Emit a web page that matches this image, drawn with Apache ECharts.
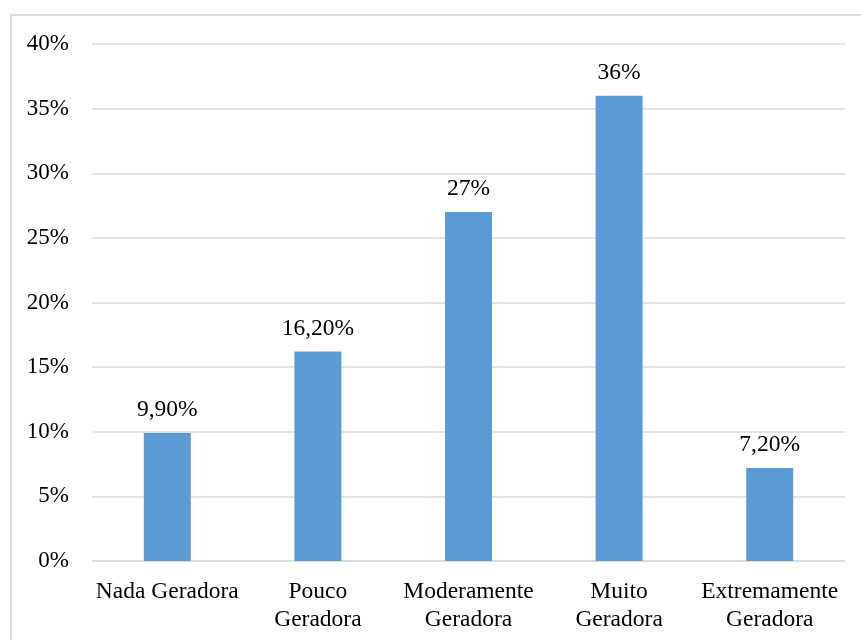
<!DOCTYPE html>
<html>
<head>
<meta charset="utf-8">
<script src="https://cdn.jsdelivr.net/npm/echarts@6/dist/echarts.min.js"></script>
<style>
  html, body { margin: 0; padding: 0; background: #fff; }
  #chart { width: 861px; height: 640px; }
</style>
</head>
<body>
<div id="chart"></div>
<script>
const categories = ['Nada Geradora', 'Pouco\nGeradora', 'Moderamente\nGeradora', 'Muito\nGeradora', 'Extremamente\nGeradora'];
const values = [9.9, 16.2, 27, 36, 7.2];
const valueLabels = ['9,90%', '16,20%', '27%', '36%', '7,20%'];

const chart = echarts.init(document.getElementById('chart'));
const font = '"Liberation Serif", "Times New Roman", serif';

chart.setOption({
    animation: false,
    textStyle: { fontFamily: font },
    // outer chart border (right and bottom fall outside the picture)
    graphic: [{
        type: 'rect',
        shape: { x: 11, y: 15, width: 880, height: 660 },
        style: { fill: 'none', stroke: '#d9d9d9', lineWidth: 2 },
        silent: true
    }],
    grid: { left: 92, right: 16, top: 44, bottom: 79 },
    xAxis: {
        type: 'category',
        data: categories,
        axisLine: { lineStyle: { color: '#d9d9d9', width: 1.5 } },
        axisTick: { show: false },
        axisLabel: {
            color: '#000', fontSize: 23.5, fontFamily: font,
            lineHeight: 28, margin: 17, interval: 0
        }
    },
    yAxis: {
        type: 'value',
        min: 0, max: 40, interval: 5,
        axisLine: { show: false },
        axisTick: { show: false },
        splitLine: { lineStyle: { color: '#d9d9d9', width: 1.5 } },
        axisLabel: {
            color: '#000', fontSize: 23, fontFamily: font, margin: 23,
            formatter: v => v + '%'
        }
    },
    series: [{
        type: 'bar',
        data: values,
        barWidth: 47,
        itemStyle: { color: '#5b9bd5' },
        label: {
            show: true, position: 'top', distance: 11,
            color: '#000', fontSize: 23.5, fontFamily: font,
            formatter: p => valueLabels[p.dataIndex]
        }
    }]
});
</script>
</body>
</html>
